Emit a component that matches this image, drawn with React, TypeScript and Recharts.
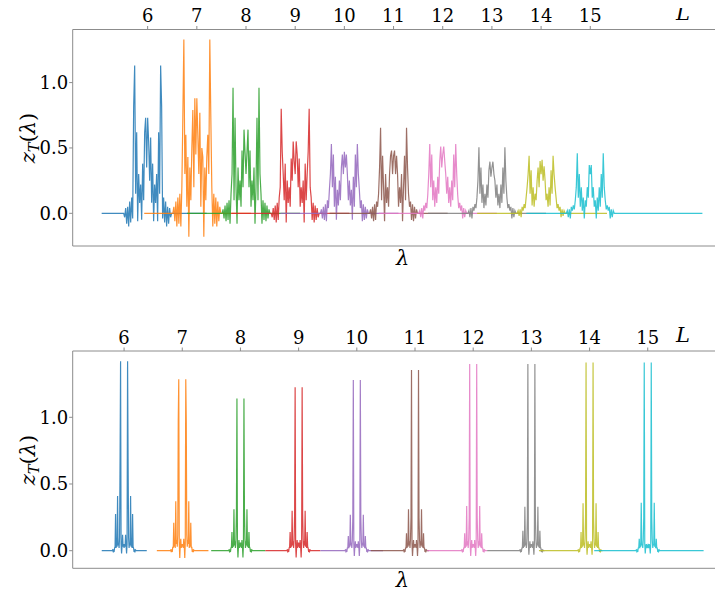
import { LineChart, Line, XAxis, YAxis } from "recharts";

const SERIF = "DejaVu Serif, serif";
const SPINE = "#8c8c8c";

// cluster centres = system sizes L on the upper axis
const L_TICKS = [6, 7, 8, 9, 10, 11, 12, 13, 14, 15];
const Z_TICKS = [0, 0.5, 1.0];
const COLORS = [
  "#1f77b4", "#ff7f0e", "#2ca02c", "#d62728", "#9467bd",
  "#8c564b", "#e377c2", "#7f7f7f", "#bcbd22", "#17becf",
];

// ---- upper panel ----
const TOP_X = [4.476, 17.896];
const TOP_Z = [-0.25, 1.406];
const TOP_STEP = 0.0203;
const topStart = [5.065, 5.93, 6.8, 7.7, 8.7, 9.7, 10.7, 11.7, 12.7, 13.7];
const topEnd = [7.2, 8.1, 9.1, 10.1, 11.1, 12.1, 13.1, 14.1, 15.34, 17.28];

const top6 = [0, -0.03, 0.04, -0.08, 0.05, -0.1, 0.09, -0.07, 0.12, -0.04, 0.82, 1.13, 0.15, 0.62, -0.06, 0.3, 0.08, 0.22, -0.05, 0.38, 0.1, 0.62, 0.73, 0.35,
  0.73, 0.55, 0.25, 0.58, 0.08, 0.38, -0.06, 0.22, 0.08, 0.3, -0.06, 0.62, 0.15, 1.13, 0.82, -0.04, 0.12, -0.07, 0.09, -0.1, 0.05, -0.08, 0.04, -0.03, 0];
const top7 = [0, 0.05, -0.06, 0.09, -0.1, 0.12, -0.08, 0.15, -0.1, 0.2, 0.74, 1.33, 0.3, 0.6, 0.05, 0.43, -0.18, 0.35, 0.1, 0.5, 0.79, 0.2, 0.88, 0.45,
  0.88, 0.6, 0.3, 0.77, 0.05, 0.5, 0.43, -0.18, 0.35, 0.1, 0.43, 0.6, 0.3, 1.33, 0.74, 0.2, -0.1, 0.15, -0.08, 0.12, -0.1, 0.09, -0.06, 0.05, 0];
const top8 = [0, 0.03, -0.04, 0.06, -0.06, 0.08, -0.05, 0.1, -0.08, 0.15, 0.3, 0.96, 0.1, 0.73, 0.2, -0.08, 0.35, 0.1, 0.25, 0.05, 0.48, 0.2, 0.64, 0.47,
  0.3, 0.47, 0.64, 0.2, 0.48, 0.05, 0.25, 0.1, 0.35, -0.08, 0.2, 0.73, 0.1, 0.96, 0.3, 0.15, -0.08, 0.1, -0.05, 0.08, -0.06, 0.06, -0.04, 0.03, 0];
const top9 = [0, -0.03, 0.04, -0.05, 0.06, -0.07, 0.08, -0.05, 0.12, 0.2, 0.8, 0.47, 0.3, 0.1, 0.38, -0.07, 0.25, 0.08, 0.2, 0.05, 0.42, 0.25, 0.55, 0.4,
  0.3, 0.55, 0.45, 0.2, 0.42, 0.05, 0.2, 0.08, 0.25, -0.07, 0.38, 0.1, 0.3, 0.47, 0.8, 0.2, 0.12, -0.05, 0.08, -0.07, 0.06, -0.05, 0.04, -0.03, 0];
const top10 = [0, 0.03, -0.04, 0.05, -0.05, 0.07, -0.06, 0.1, 0.04, 0.18, 0.3, 0.53, 0.2, 0.45, 0.05, 0.28, -0.05, 0.18, 0.06, 0.25, 0.1, 0.35, 0.45, 0.3,
  0.47, 0.35, 0.45, 0.3, 0.1, 0.25, 0.06, 0.18, -0.05, 0.28, 0.05, 0.45, 0.2, 0.53, 0.3, 0.18, 0.04, 0.1, -0.06, 0.07, -0.05, 0.05, -0.04, 0.03, 0];
const top11 = [0, 0.03, -0.04, 0.05, -0.06, 0.07, -0.05, 0.09, 0.05, 0.15, 0.35, 0.655, 0.1, 0.44, 0.2, -0.06, 0.3, 0.08, 0.2, 0.05, 0.3, 0.44, 0.48, 0.3,
  0.44, 0.48, 0.3, 0.44, 0.3, 0.05, 0.2, 0.08, 0.3, -0.06, 0.2, 0.44, 0.1, 0.655, 0.35, 0.15, 0.05, 0.09, -0.05, 0.07, -0.06, 0.05, -0.04, 0.03, 0];
const top12 = [0, 0.02, -0.03, 0.04, -0.04, 0.06, 0.02, 0.08, 0.04, 0.14, 0.3, 0.53, 0.2, 0.45, 0.1, 0.25, 0.05, 0.2, 0.08, 0.28, 0.15, 0.4, 0.51, 0.35,
  0.45, 0.51, 0.4, 0.3, 0.15, 0.28, 0.08, 0.2, 0.05, 0.25, 0.1, 0.45, 0.2, 0.53, 0.3, 0.14, 0.04, 0.08, 0.02, 0.06, -0.04, 0.04, -0.03, 0.02, 0];
const top13 = [0, 0.02, -0.03, 0.04, -0.04, 0.05, 0.02, 0.07, 0.04, 0.12, 0.25, 0.505, 0.15, 0.35, 0.08, 0.22, 0.04, 0.15, 0.06, 0.22, 0.12, 0.33, 0.395, 0.28,
  0.35, 0.395, 0.3, 0.25, 0.12, 0.22, 0.06, 0.15, 0.04, 0.22, 0.08, 0.35, 0.15, 0.505, 0.25, 0.12, 0.04, 0.07, 0.02, 0.05, -0.04, 0.04, -0.03, 0.02, 0];
const top14 = [0, 0.02, -0.02, 0.03, -0.03, 0.05, 0.02, 0.07, 0.04, 0.12, 0.2, 0.3, 0.44, 0.15, 0.33, 0.06, 0.2, 0.05, 0.15, 0.1, 0.25, 0.35, 0.2, 0.4,
  0.3, 0.41, 0.25, 0.36, 0.25, 0.1, 0.15, 0.05, 0.2, 0.06, 0.33, 0.15, 0.44, 0.3, 0.2, 0.12, 0.04, 0.07, 0.02, 0.05, -0.03, 0.03, -0.02, 0.02, 0];
const top15 = [0, 0.02, -0.03, 0.03, -0.04, 0.05, 0.02, 0.06, 0.03, 0.1, 0.2, 0.46, 0.12, 0.3, 0.05, 0.2, 0.02, 0.12, -0.04, 0.1, 0.05, 0.2, 0.12, 0.37,
  0.3, 0.37, 0.12, 0.2, 0.05, 0.1, -0.04, 0.12, 0.02, 0.2, 0.05, 0.3, 0.12, 0.46, 0.2, 0.1, 0.03, 0.06, 0.02, 0.05, -0.04, 0.03, -0.03, 0.02, 0];
const topSpectra = [top6, top7, top8, top9, top10, top11, top12, top13, top14, top15];

// ---- lower panel ----
const BOT_X = [5.117, 16.46];
const BOT_Z = [-0.132, 1.497];
const BOT_STEP = 0.0086;
const botStart = [5.616, 6.563, 7.497, 8.427, 9.373, 10.24, 11.21, 12.24, 13.13, 14.08];
const botEnd = [6.39, 7.45, 8.427, 9.373, 10.45, 11.24, 12.24, 13.19, 14.19, 15.96];

const bot6 = [0, 0.005, -0.005, 0.01, -0.01, 0.02, 0.03, 0.275, 0.02, 0.05, 0.03, 0.41, 0.04, 0.06, 0.02, 0.1, 0.69, 1.42, 0.05, -0.02, 0.04, 0.12, 0.03, 0.05,
  0.02, 0.05, 0.03, 0.12, 0.04, -0.02, 0.05, 1.42, 0.69, 0.1, 0.02, 0.06, 0.04, 0.41, 0.03, 0.05, 0.02, 0.275, 0.03, 0.02, -0.01, 0.01, -0.005, 0.005, 0];
const bot7 = [0, 0.005, -0.01, 0.01, -0.01, 0.03, 0.02, 0.21, 0.03, 0.06, 0.02, 0.37, 0.05, 0.08, 0.03, 0.12, 0.97, 1.285, 0.06, -0.055, 0.04, 0.09, 0.02, 0.05,
  0.03, 0.05, 0.02, 0.09, 0.04, -0.055, 0.06, 1.285, 0.97, 0.12, 0.03, 0.08, 0.05, 0.37, 0.02, 0.06, 0.03, 0.21, 0.02, 0.03, -0.01, 0.01, -0.01, 0.005, 0];
const bot8 = [0, 0.005, -0.005, 0.01, -0.01, 0.02, 0.03, 0.14, 0.02, 0.05, 0.03, 0.31, 0.04, 0.07, 0.02, 0.09, 0.3, 1.14, 0.05, -0.05, 0.03, 0.08, 0.02, 0.06,
  0.03, 0.06, 0.02, 0.08, 0.03, -0.05, 0.05, 1.14, 0.3, 0.09, 0.02, 0.07, 0.04, 0.31, 0.03, 0.05, 0.02, 0.14, 0.03, 0.02, -0.01, 0.01, -0.005, 0.005, 0];
const bot9 = [0, 0.005, -0.005, 0.01, -0.01, 0.02, 0.03, 0.14, 0.02, 0.05, 0.03, 0.3, 0.04, 0.07, 0.02, 0.09, 0.28, 1.225, 0.05, -0.05, 0.03, 0.08, 0.02, 0.06,
  0.03, 0.06, 0.02, 0.08, 0.03, -0.05, 0.05, 1.225, 0.28, 0.09, 0.02, 0.07, 0.04, 0.3, 0.03, 0.05, 0.02, 0.14, 0.03, 0.02, -0.01, 0.01, -0.005, 0.005, 0];
const bot10 = [0, 0.005, -0.005, 0.01, -0.01, 0.02, 0.02, 0.11, 0.02, 0.04, 0.03, 0.27, 0.04, 0.06, 0.02, 0.08, 0.25, 1.28, 0.05, -0.04, 0.03, 0.07, 0.02, 0.05,
  0.03, 0.05, 0.02, 0.07, 0.03, -0.04, 0.05, 1.28, 0.25, 0.08, 0.02, 0.06, 0.04, 0.27, 0.03, 0.04, 0.02, 0.11, 0.02, 0.02, -0.01, 0.01, -0.005, 0.005, 0];
const bot11 = [0, 0.005, -0.005, 0.01, -0.01, 0.02, 0.02, 0.13, 0.02, 0.05, 0.03, 0.31, 0.04, 0.07, 0.02, 0.09, 0.25, 1.355, 0.05, -0.04, 0.03, 0.08, 0.02, 0.05,
  0.03, 0.05, 0.02, 0.08, 0.03, -0.04, 0.05, 1.355, 0.25, 0.09, 0.02, 0.07, 0.04, 0.31, 0.03, 0.05, 0.02, 0.13, 0.02, 0.02, -0.01, 0.01, -0.005, 0.005, 0];
const bot12 = [0, 0.005, -0.005, 0.01, -0.01, 0.02, 0.02, 0.13, 0.02, 0.05, 0.03, 0.335, 0.04, 0.07, 0.02, 0.09, 0.25, 1.4, 0.05, -0.04, 0.03, 0.08, 0.02, 0.05,
  0.03, 0.05, 0.02, 0.08, 0.03, -0.04, 0.05, 1.4, 0.25, 0.09, 0.02, 0.07, 0.04, 0.335, 0.03, 0.05, 0.02, 0.13, 0.02, 0.02, -0.01, 0.01, -0.005, 0.005, 0];
const bot13 = [0, 0.005, -0.005, 0.01, -0.01, 0.02, 0.02, 0.15, 0.02, 0.05, 0.03, 0.33, 0.04, 0.06, 0.02, 0.09, 0.25, 1.4, 0.05, -0.03, 0.03, 0.07, 0.02, 0.05,
  0.03, 0.05, 0.02, 0.07, 0.03, -0.03, 0.05, 1.4, 0.25, 0.09, 0.02, 0.06, 0.04, 0.33, 0.03, 0.05, 0.02, 0.15, 0.02, 0.02, -0.01, 0.01, -0.005, 0.005, 0];
const bot14 = [0, 0.005, -0.005, 0.01, -0.01, 0.02, 0.02, 0.14, 0.02, 0.05, 0.03, 0.355, 0.04, 0.06, 0.02, 0.09, 0.25, 1.41, 0.05, -0.03, 0.03, 0.07, 0.02, 0.05,
  0.03, 0.05, 0.02, 0.07, 0.03, -0.03, 0.05, 1.41, 0.25, 0.09, 0.02, 0.06, 0.04, 0.355, 0.03, 0.05, 0.02, 0.14, 0.02, 0.02, -0.01, 0.01, -0.005, 0.005, 0];
const bot15 = [0, 0.005, -0.005, 0.01, -0.01, 0.02, 0.02, 0.09, 0.02, 0.04, 0.03, 0.36, 0.04, 0.05, 0.02, 0.08, 0.25, 1.41, 0.05, -0.02, 0.03, 0.05, 0.02, 0.04,
  0.03, 0.04, 0.02, 0.05, 0.03, -0.02, 0.05, 1.41, 0.25, 0.08, 0.02, 0.05, 0.04, 0.36, 0.03, 0.04, 0.02, 0.09, 0.02, 0.02, -0.01, 0.01, -0.005, 0.005, 0];
const botSpectra = [bot6, bot7, bot8, bot9, bot10, bot11, bot12, bot13, bot14, bot15];

function buildSeries(center: number, step: number, values: number[], start: number, end: number) {
  const half = (values.length - 1) / 2;
  const pts = [{ x: start, z: 0 }];
  values.forEach((v, k) => pts.push({ x: center + (k - half) * step, z: v }));
  pts.push({ x: end, z: 0 });
  return pts;
}

const tickStyle = { fill: "#000", fontSize: 18, fontFamily: SERIF };

function Panel({
  height, topPad, bottomAxis, xDomain, zDomain, step, spectra, starts, ends,
}: {
  height: number; topPad: number; bottomAxis: number; xDomain: number[]; zDomain: number[];
  step: number; spectra: number[][]; starts: number[]; ends: number[];
}) {
  return (
    <LineChart width={730} height={height} margin={{ top: topPad, right: 5.3, bottom: 0, left: 24.7 }}
      style={{ fontFamily: SERIF }}>
      <XAxis
        xAxisId="L" orientation="top" type="number" dataKey="x" domain={xDomain} allowDataOverflow
        ticks={L_TICKS} interval={0} height={21.5} tickSize={3.5} tickMargin={4}
        stroke={SPINE} tick={tickStyle}
      />
      <XAxis
        xAxisId="lam" orientation="bottom" type="number" dataKey="x" domain={xDomain} allowDataOverflow
        tick={false} tickLine={false} height={bottomAxis} stroke={SPINE}
      />
      <YAxis
        type="number" domain={zDomain} allowDataOverflow ticks={Z_TICKS} interval={0} width={40}
        tickSize={3.5} tickMargin={1} stroke={SPINE} tick={tickStyle}
        tickFormatter={(v: number) => v.toFixed(1)}
      />
      {spectra.map((vals, i) => (
        <Line
          key={i} xAxisId="L" data={buildSeries(L_TICKS[i], step, vals, starts[i], ends[i])}
          dataKey="z" type="linear" stroke={COLORS[i]} strokeWidth={1.2} strokeOpacity={0.85}
          dot={false} activeDot={false} isAnimationActive={false}
        />
      ))}
    </LineChart>
  );
}

function Tex({ x, y, rotate = 0, size = 21, children }: { x: number; y: number; rotate?: number; size?: number; children: React.ReactNode }) {
  return (
    <div style={{
      position: "absolute", left: x, top: y, transform: `translate(-50%, -50%) rotate(${rotate}deg)`,
      fontFamily: SERIF, fontSize: size, lineHeight: 1, whiteSpace: "nowrap", color: "#000",
    }}>
      {children}
    </div>
  );
}

const ZLabel = () => (
  <span>
    <i>z</i>
    <i style={{ fontSize: "0.7em", position: "relative", top: "0.3em" }}>T</i>
    (<i>λ</i>)
  </span>
);

// root is pulled up by the body margin so page y == local y
export default function App() {
  return (
    <div style={{ position: "relative", marginTop: -8, width: 715, height: 594, overflow: "hidden" }}>
      <Panel height={276} topPad={8} bottomAxis={30} xDomain={TOP_X} zDomain={TOP_Z}
        step={TOP_STEP} spectra={topSpectra} starts={topStart} ends={topEnd} />
      <Panel height={318} topPad={53.5} bottomAxis={25.7} xDomain={BOT_X} zDomain={BOT_Z}
        step={BOT_STEP} spectra={botSpectra} starts={botStart} ends={botEnd} />
      <Tex x={20.3} y={137.7} rotate={-90}><ZLabel /></Tex>
      <Tex x={20.3} y={459.7} rotate={-90}><ZLabel /></Tex>
      <Tex x={394.7} y={257.5}><i>λ</i></Tex>
      <Tex x={394.5} y={580}><i>λ</i></Tex>
      <Tex x={675} y={13.3}><i>L</i></Tex>
      <Tex x={675} y={335}><i>L</i></Tex>
    </div>
  );
}
